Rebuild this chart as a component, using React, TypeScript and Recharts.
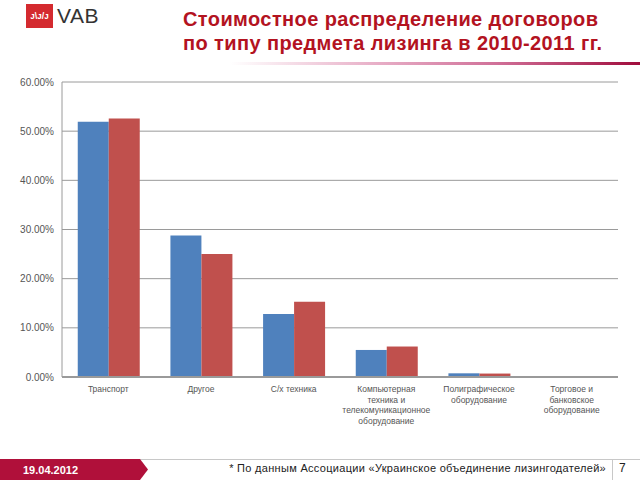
import React from "react";
import { Bar, BarChart, CartesianGrid, XAxis, YAxis } from "recharts";

const categories = [
  "Транспорт",
  "Другое",
  "С/х техника",
  "Компьютерная\nтехника и\nтелекомуникационное\nоборудование",
  "Полиграфическое\nоборудование",
  "Торговое и\nбанковское\nоборудование",
];
const values2010 = [51.9, 28.8, 12.8, 5.5, 0.75, 0.1];
const values2011 = [52.6, 25.0, 15.3, 6.2, 0.7, 0.1];
const yTicks = [0, 10, 20, 30, 40, 50, 60];

const data = categories.map((c, i) => ({
  name: c,
  y2010: values2010[i],
  y2011: values2011[i],
}));

const FONT = "'Liberation Sans', Arial, sans-serif";
const RED = "#b3131f";

function CategoryTick({ x, y, payload }: any) {
  const lines = String(payload.value).split("\n");
  return (
    <text x={x} y={y + 7} textAnchor="middle" fontSize={8.5} fill="#555" fontFamily={FONT}>
      {lines.map((l, i) => (
        <tspan key={i} x={x} dy={i === 0 ? 0 : 10.5}>
          {l}
        </tspan>
      ))}
    </text>
  );
}

export default function App() {
  return (
    <div
      style={{
        position: "absolute",
        left: 0,
        top: 0,
        width: 640,
        height: 480,
        background: "#fff",
        overflow: "hidden",
        fontFamily: FONT,
      }}
    >
      {/* logo */}
      <div
        style={{
          position: "absolute",
          left: 26,
          top: 4,
          width: 27,
          height: 24,
          background: "#d42a2f",
          color: "#fff",
          fontSize: 9,
          fontWeight: 700,
          textAlign: "center",
          lineHeight: "24px",
        }}
      >
        ᴊ\ᴊ/ᴊ
      </div>
      <div
        style={{
          position: "absolute",
          left: 57,
          top: 4,
          fontSize: 21,
          color: "#333",
          letterSpacing: 0.5,
        }}
      >
        VAB
      </div>
      {/* title */}
      <div
        style={{
          position: "absolute",
          left: 183,
          top: 8,
          fontSize: 20,
          fontWeight: 700,
          color: RED,
          lineHeight: "23.5px",
          letterSpacing: 0.4,
          whiteSpace: "nowrap",
        }}
      >
        Стоимостное распределение договоров
        <br />
        по типу предмета лизинга в 2010-2011 гг.
      </div>
      <div
        style={{
          position: "absolute",
          left: 230,
          top: 62,
          width: 410,
          height: 3,
          background: "linear-gradient(to right, rgba(255,255,255,0), #e8b0c8 35%, #d07098 65%, #a00c3c)",
        }}
      />

      <div style={{ position: "absolute", left: 0, top: 0 }}>
        <BarChart
          width={640}
          height={480}
          data={data}
          margin={{ top: 82, right: 22, bottom: 53, left: 0 }}
          barCategoryGap="17%"
          barGap={0}
        >
          <CartesianGrid vertical={false} stroke="#9a9a9a" />
          <XAxis
            dataKey="name"
            height={50}
            interval={0}
            tick={<CategoryTick />}
            tickLine={false}
            stroke="#9a9a9a"
            strokeWidth={2}
          />
          <YAxis
            width={62}
            domain={[0, 60]}
            ticks={yTicks}
            tickFormatter={(v) => `${Number(v).toFixed(2)}%`}
            tick={{ fontSize: 10, fill: "#555", fontFamily: FONT }}
            tickLine={false}
            stroke="#9a9a9a"
          />
          <Bar dataKey="y2010" name="2010" fill="#4f81bd" isAnimationActive={false} />
          <Bar dataKey="y2011" name="2011" fill="#c0504d" isAnimationActive={false} />
        </BarChart>
      </div>

      {/* footer */}
      <div
        style={{
          position: "absolute",
          left: 0,
          top: 459,
          width: 640,
          height: 21,
          borderTop: "1px solid #c8c8c8",
          boxSizing: "border-box",
        }}
      />
      <svg style={{ position: "absolute", left: 0, top: 459 }} width={150} height={21}>
        <polygon points="0,0 140,0 148,10.5 140,21 0,21" fill="#b0103a" />
        <text x={23} y={15} fill="#fff" fontSize={11} fontWeight={700} fontFamily={FONT}>
          19.04.2012
        </text>
      </svg>
      <div
        style={{
          position: "absolute",
          right: 34,
          top: 462,
          fontSize: 11,
          letterSpacing: 0.3,
          color: "#222",
          whiteSpace: "nowrap",
        }}
      >
        * По данным Ассоциации «Украинское объединение лизингодателей»
      </div>
      <div
        style={{
          position: "absolute",
          left: 612,
          top: 459,
          width: 28,
          height: 21,
          borderLeft: "1px solid #c8c8c8",
          fontSize: 12,
          color: "#222",
          paddingLeft: 6,
          paddingTop: 2,
          boxSizing: "border-box",
        }}
      >
        7
      </div>
    </div>
  );
}
